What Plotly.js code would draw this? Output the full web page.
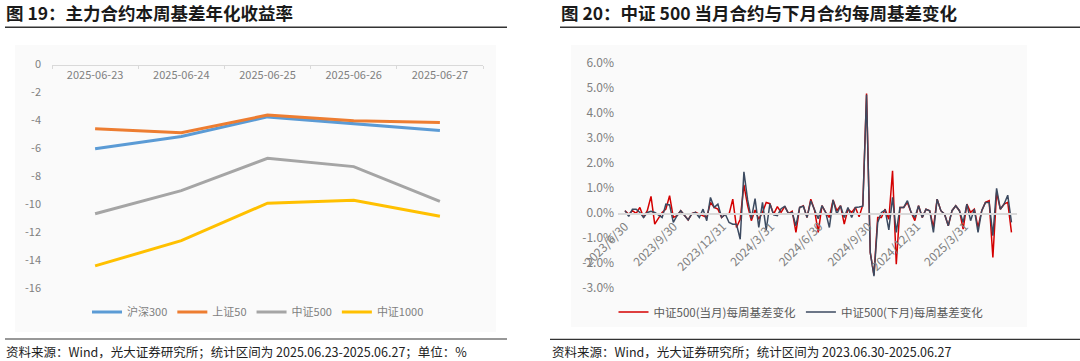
<!DOCTYPE html>
<html>
<head>
<meta charset="utf-8">
<script src="https://cdn.plot.ly/plotly-3.0.1.min.js"></script>
<style>
html,body{margin:0;padding:0;background:#fff;}
#chart{width:1080px;height:361px;}
</style>
</head>
<body>
<div id="chart"></div>
<script>
// ---------- Figure 19 data ----------
const dates19 = ['2025-06-23','2025-06-24','2025-06-25','2025-06-26','2025-06-27'];
const hs300  = [-6.03, -5.15, -3.75, -4.25, -4.72];
const sz50   = [-4.60, -4.88, -3.62, -4.02, -4.16];
const zz500  = [-10.68, -9.03, -6.72, -7.31, -9.80];
const zz1000 = [-14.42, -12.61, -9.93, -9.72, -10.87];
const yTicks19 = [0, -2, -4, -6, -8, -10, -12, -14, -16];
const yTickText19 = ['0','-2','-4','-6','-8','-10','-12','-14','-16'];

// ---------- Figure 20 data ----------
const weeks20 = [
'2023-06-30','2023-07-07','2023-07-14','2023-07-21','2023-07-28','2023-08-04','2023-08-11','2023-08-18','2023-08-25','2023-09-01',
'2023-09-08','2023-09-15','2023-09-22','2023-09-29','2023-10-06','2023-10-13','2023-10-20','2023-10-27','2023-11-03','2023-11-10',
'2023-11-17','2023-11-24','2023-12-01','2023-12-08','2023-12-15','2023-12-22','2023-12-29','2024-01-05','2024-01-12','2024-01-19',
'2024-01-26','2024-02-02','2024-02-09','2024-02-16','2024-02-23','2024-03-01','2024-03-08','2024-03-15','2024-03-22','2024-03-29',
'2024-04-05','2024-04-12','2024-04-19','2024-04-26','2024-05-03','2024-05-10','2024-05-17','2024-05-24','2024-05-31','2024-06-07',
'2024-06-14','2024-06-21','2024-06-28','2024-07-05','2024-07-12','2024-07-19','2024-07-26','2024-08-02','2024-08-09','2024-08-16',
'2024-08-23','2024-08-30','2024-09-06','2024-09-13','2024-09-20','2024-09-27','2024-10-04','2024-10-11','2024-10-18','2024-10-25',
'2024-11-01','2024-11-08','2024-11-15','2024-11-22','2024-11-29','2024-12-06','2024-12-13','2024-12-20','2024-12-27','2025-01-03',
'2025-01-10','2025-01-17','2025-01-24','2025-01-31','2025-02-07','2025-02-14','2025-02-21','2025-02-28','2025-03-07','2025-03-14',
'2025-03-21','2025-03-28','2025-04-04','2025-04-11','2025-04-18','2025-04-25','2025-05-02','2025-05-09','2025-05-16','2025-05-23',
'2025-05-30','2025-06-06','2025-06-13','2025-06-20','2025-06-27'];
// 中证500(当月)每周基差变化, %
const csi500Current = [
 0.07,-0.07, 0.07,-0.04, 0.20,-0.20, 0.07, 0.64,-0.47,-0.24,
 0.00, 0.13, 0.67,-0.20,-0.13, 0.07,-0.10,-0.30,-0.05, 0.00,
-0.07,-0.13,-0.20, 0.40, 0.20, 0.13,-0.20,-0.07,-0.07, 0.53,
-0.60,-0.27, 1.10, 0.27,-0.33, 0.10,-0.27, 0.00, 0.40, 0.35,
-0.07, 0.23, 0.00, 0.24,-0.05, 0.05,-0.80, 0.20, 0.27,-0.20,
 0.53, 0.10,-0.80, 0.27, 0.00,-0.20, 0.50, 0.07, 0.27,-0.47,
 0.13, 0.00, 0.20,-0.17, 0.30, 4.75,-1.60,-2.50,-0.20,-0.20,
 0.13,-0.27, 1.66,-2.07, 0.20, 0.20, 0.40, 0.00,-0.33, 0.27,
-0.20, 0.13, 0.07,-0.60, 0.53, 0.07,-0.07,-0.53, 0.07, 0.27,
 0.07,-0.67, 0.33, 0.00, 0.13,-0.60, 0.07, 0.40, 0.47,-1.80,
 0.80, 0.13, 0.33, 0.40,-0.80];
// 中证500(下月)每周基差变化, %
const csi500Next = [
 0.07,-0.16, 0.13, 0.13, 0.00,-0.20, 0.00, 0.05, 0.00,-0.10,
-0.20, 0.33, 0.30,-0.40,-0.13, 0.07,-0.10,-0.30,-0.05, 0.00,
-0.20, 0.13,-0.33, 0.60, 0.20, 0.33,-0.20,-0.07,-0.40,-0.47,
-0.47,-1.07, 1.62, 0.50,-0.25, 0.55,-0.60, 0.40,-0.70, 0.35,
-0.10,-0.13, 0.15, 0.24,-0.05, 0.00,-0.53, 0.20, 0.25,-0.20,
 0.47, 0.10,-0.25, 0.27, 0.00,-0.60, 0.50,-0.07, 0.27,-0.20,
 0.20,-0.20, 0.20, 0.22, 0.25, 4.70,-1.60,-2.55,-0.40, 0.00,
 0.10,-0.70, 0.60,-0.80, 0.20, 0.20, 0.47, 0.00,-0.20, 0.27,
-0.20, 0.13, 0.07,-0.80, 0.53, 0.07,-0.07,-0.53, 0.07, 0.27,
 0.07,-0.40, 0.33,-0.33, 0.13,-0.80, 0.07, 0.40, 0.40,-0.93,
 0.96, 0.13, 0.33, 0.69,-0.40];
const xTickDates20 = ['2023-06-30','2023-09-30','2023-12-31','2024-03-31','2024-06-30','2024-09-30','2024-12-31','2025-03-31'];
const xTickText20  = ['2023/6/30','2023/9/30','2023/12/31','2024/3/31','2024/6/30','2024/9/30','2024/12/31','2025/3/31'];
const yTicks20 = [-3,-2,-1,0,1,2,3,4,5,6];
const yTickText20 = ['-3.0%','-2.0%','-1.0%','0.0%','1.0%','2.0%','3.0%','4.0%','5.0%','6.0%'];

// ---------- layout helpers ----------
const FONT = '"Noto Sans CJK SC", "Noto Sans", sans-serif';
const W = 1080, H = 361;
const px = x => x / W;
const py = y => 1 - y / H;
const tickFont = (s, c) => ({family: FONT, size: s, color: c});

const traces = [
  {x: dates19, y: hs300,  name: '沪深300',  type: 'scatter', mode: 'lines', line: {color: '#5B9BD5', width: 3}, xaxis: 'x', yaxis: 'y', legend: 'legend'},
  {x: dates19, y: sz50,   name: '上证50',   type: 'scatter', mode: 'lines', line: {color: '#ED7D31', width: 3}, xaxis: 'x', yaxis: 'y', legend: 'legend'},
  {x: dates19, y: zz500,  name: '中证500',  type: 'scatter', mode: 'lines', line: {color: '#A5A5A5', width: 3}, xaxis: 'x', yaxis: 'y', legend: 'legend'},
  {x: dates19, y: zz1000, name: '中证1000', type: 'scatter', mode: 'lines', line: {color: '#FFC000', width: 3}, xaxis: 'x', yaxis: 'y', legend: 'legend'},
  {x: weeks20, y: csi500Current, name: '中证500(当月)每周基差变化', type: 'scatter', mode: 'lines', line: {color: '#D40000', width: 1.5}, xaxis: 'x2', yaxis: 'y2', legend: 'legend2'},
  {x: weeks20, y: csi500Next,    name: '中证500(下月)每周基差变化', type: 'scatter', mode: 'lines', line: {color: '#3C4A60', width: 1.5}, xaxis: 'x2', yaxis: 'y2', legend: 'legend2'}
];

const layout = {
  width: W, height: H,
  margin: {l: 0, r: 0, t: 0, b: 0},
  paper_bgcolor: '#ffffff',
  plot_bgcolor: 'rgba(0,0,0,0)',
  font: {family: FONT},
  showlegend: true,
  hovermode: false,
  xaxis: {
    domain: [px(52), px(483)], type: 'category', range: [-0.5, 4.5],
    anchor: 'free', position: py(64.5), side: 'bottom',
    showline: true, linecolor: '#d9d9d9', linewidth: 1,
    ticks: 'outside', tickson: 'boundaries', ticklen: 3, tickcolor: '#d9d9d9',
    tickfont: tickFont(11, '#7f7f7f'), showgrid: false, zeroline: false, fixedrange: true
  },
  yaxis: {
    domain: [py(288), py(64.5)], range: [-16, 0], anchor: 'x',
    tickvals: yTicks19, ticktext: yTickText19,
    showgrid: false, zeroline: false, showline: false, ticks: '',
    ticklabelstandoff: 10, tickfont: tickFont(11, '#7f7f7f'), fixedrange: true
  },
  xaxis2: {
    domain: [px(618.1), px(1017.3)], type: 'date', range: ['2023-06-17', '2025-07-08'],
    anchor: 'free', position: py(213.3), side: 'bottom',
    showline: true, linecolor: '#d9d9d9', linewidth: 1.5,
    tickvals: xTickDates20, ticktext: xTickText20, tickangle: -45, ticks: '',
    tickfont: tickFont(12, '#7f7f7f'), showgrid: false, zeroline: false, fixedrange: true
  },
  yaxis2: {
    domain: [py(287.5), py(62.3)], range: [-3, 6], anchor: 'x2',
    tickvals: yTicks20, ticktext: yTickText20,
    showgrid: false, zeroline: false, showline: false, ticks: '',
    ticklabelstandoff: 3, tickfont: tickFont(12, '#7f7f7f'), fixedrange: true
  },
  legend: {
    x: px(258), y: py(312), xanchor: 'center', yanchor: 'middle', orientation: 'h',
    font: tickFont(11, '#7f7f7f'), bgcolor: 'rgba(0,0,0,0)', itemwidth: 30
  },
  legend2: {
    x: px(801), y: py(312), xanchor: 'center', yanchor: 'middle', orientation: 'h',
    font: tickFont(11.5, '#595959'), bgcolor: 'rgba(0,0,0,0)', itemwidth: 30
  },
  shapes: [
    {type: 'rect', xref: 'paper', yref: 'paper', x0: px(15), x1: px(496), y0: py(332), y1: py(45), fillcolor: '#fafafa', line: {width: 0}, layer: 'below'},
    {type: 'rect', xref: 'paper', yref: 'paper', x0: px(571), x1: px(1027), y0: py(327), y1: py(45), fillcolor: '#fafafa', line: {width: 0}, layer: 'below'},
    {type: 'line', xref: 'paper', yref: 'paper', x0: px(5), x1: px(507), y0: py(27.3), y1: py(27.3), line: {color: '#333333', width: 1.5}},
    {type: 'line', xref: 'paper', yref: 'paper', x0: px(560), x1: px(1080), y0: py(27.3), y1: py(27.3), line: {color: '#333333', width: 1.5}},
    {type: 'line', xref: 'paper', yref: 'paper', x0: px(5), x1: px(507), y0: py(339), y1: py(339), line: {color: '#333333', width: 1.2}},
    {type: 'line', xref: 'paper', yref: 'paper', x0: px(550), x1: px(1080), y0: py(339.3), y1: py(339.3), line: {color: '#333333', width: 1.2}}
  ],
  annotations: [
    {text: '图 19：主力合约本周基差年化收益率', xref: 'paper', yref: 'paper', x: px(4), y: py(13), xanchor: 'left', yanchor: 'middle', showarrow: false,
     font: {family: FONT, size: 17.5, color: '#1a1a1a', weight: 'bold'}},
    {text: '图 20：中证 500 当月合约与下月合约每周基差变化', xref: 'paper', yref: 'paper', x: px(559), y: py(13), xanchor: 'left', yanchor: 'middle', showarrow: false,
     font: {family: FONT, size: 17.5, color: '#1a1a1a', weight: 'bold'}},
    {text: '资料来源：Wind，光大证券研究所；统计区间为 2025.06.23-2025.06.27；单位：%', xref: 'paper', yref: 'paper', x: px(4), y: py(351), xanchor: 'left', yanchor: 'middle', showarrow: false,
     font: {family: FONT, size: 12.5, color: '#222222'}},
    {text: '资料来源：Wind，光大证券研究所；统计区间为 2023.06.30-2025.06.27', xref: 'paper', yref: 'paper', x: px(550), y: py(351), xanchor: 'left', yanchor: 'middle', showarrow: false,
     font: {family: FONT, size: 12.5, color: '#222222'}}
  ]
};

Plotly.newPlot('chart', traces, layout, {staticPlot: true, displayModeBar: false});
</script>
</body>
</html>
